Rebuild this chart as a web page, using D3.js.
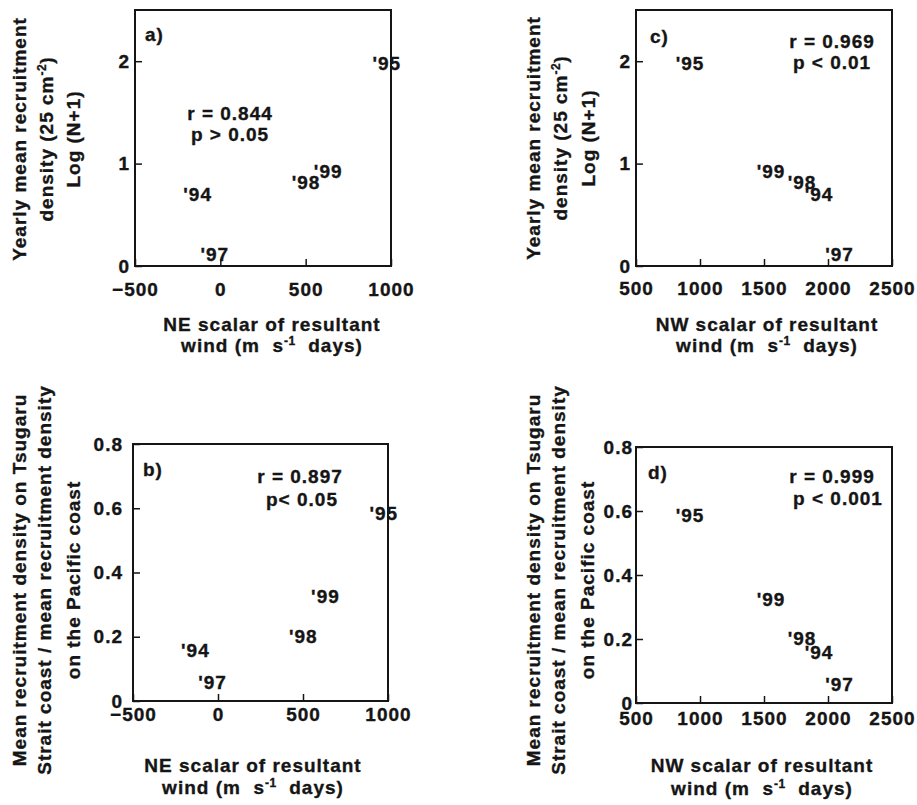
<!DOCTYPE html>
<html><head><meta charset="utf-8">
<script src="https://cdn.jsdelivr.net/npm/d3@7"></script>
<style>
body{margin:0;background:#fff}
svg text{font-family:"Liberation Sans",Arial,Helvetica,sans-serif;font-weight:bold;font-size:19px;letter-spacing:1px;fill:#151515;stroke:#151515;stroke-width:0.35px}
</style></head><body>
<svg id="chart" width="917" height="805"></svg>
<script>
// ---- data ----
const years = ["'94", "'95", "'97", "'98", "'99"];
const neWind = [-133, 975, -32, 502, 632];          // NE scalar of resultant wind
const nwWind = [1930, 922, 2090, 1797, 1555];       // NW scalar of resultant wind
const logDensity = [0.703, 1.98, 0.117, 0.82, 0.928]; // Log(N+1)
const densityRatio = [0.159, 0.586, 0.058, 0.203, 0.325];

const neTicks = [-500, 0, 500, 1000];
const neTickLabels = ["\u2212500", "0", "500", "1000"];
const nwTicks = [500, 1000, 1500, 2000, 2500];
const nwTickLabels = ["500", "1000", "1500", "2000", "2500"];
const logTicks = [0, 1, 2];
const logTickLabels = ["0", "1", "2"];
const ratioTicks = [0, 0.2, 0.4, 0.6, 0.8];
const ratioTickLabels = ["0", "0.2", "0.4", "0.6", "0.8"];

const panelLetters = ["a)", "b)", "c)", "d)"];
const statLines = [["r = 0.844", "p > 0.05"], ["r = 0.897", "p< 0.05"], ["r = 0.969", "p < 0.01"], ["r = 0.999", "p < 0.001"]];

const yTitleLog = [[{t: "Yearly mean recruitment"}], [{t: "density (25 cm"}, {t: "-2", sup: true}, {t: ")"}], [{t: "Log (N+1)"}]];
const yTitleRatio = [[{t: "Mean recruitment density on Tsugaru"}], [{t: "Strait coast / mean recruitment density"}], [{t: "on the Pacific coast"}]];
const xTitleNE = [[{t: "NE scalar of resultant"}], [{t: "wind (m\u00a0\u00a0s"}, {t: "-1", sup: true}, {t: "\u00a0\u00a0days)"}]];
const xTitleNW = [[{t: "NW scalar of resultant"}], [{t: "wind (m\u00a0\u00a0s"}, {t: "-1", sup: true}, {t: "\u00a0\u00a0days)"}]];

// ---- layout ----
const panels = [
  {id: 0, xv: neWind, yv: logDensity, xDom: [-500, 1000], yDom: [0, 2.5], xt: neTicks, xl: neTickLabels, yt: logTicks, yl: logTickLabels,
   box: [135, 10, 391, 266], ypad: 5, xpad: 17, yTitle: yTitleLog, yTitleX: [26, 53, 80], yTitleCY: 139,
   xTitle: xTitleNE, xTitleCX: 272, xTitleY: [331, 352], stat: [[230, 120], [230, 141]], letter: [145, 41]},
  {id: 1, xv: neWind, yv: densityRatio, xDom: [-500, 1000], yDom: [0, 0.8], xt: neTicks, xl: neTickLabels, yt: ratioTicks, yl: ratioTickLabels,
   box: [133, 444, 388, 701], ypad: 10, xpad: 7, yTitle: yTitleRatio, yTitleX: [26, 51, 80], yTitleCY: 580,
   xTitle: xTitleNE, xTitleCX: 253, xTitleY: [772, 794], stat: [[300, 483], [302, 506]], letter: [143, 476]},
  {id: 2, xv: nwWind, yv: logDensity, xDom: [500, 2500], yDom: [0, 2.5], xt: nwTicks, xl: nwTickLabels, yt: logTicks, yl: logTickLabels,
   box: [636, 10, 892, 266], ypad: 5, xpad: 16, yTitle: yTitleLog, yTitleX: [540, 567, 595], yTitleCY: 138,
   xTitle: xTitleNW, xTitleCX: 767, xTitleY: [331, 352], stat: [[832, 48], [832, 69]], letter: [650, 43]},
  {id: 3, xv: nwWind, yv: densityRatio, xDom: [500, 2500], yDom: [0, 0.8], xt: nwTicks, xl: nwTickLabels, yt: ratioTicks, yl: ratioTickLabels,
   box: [636, 447, 892, 703], ypad: 3, xpad: 9, yTitle: yTitleRatio, yTitleX: [540, 565, 594], yTitleCY: 580,
   xTitle: xTitleNW, xTitleCX: 762, xTitleY: [772, 795], stat: [[832, 483], [838, 505]], letter: [648, 479]}
];

const svg = d3.select("#chart");
const ink = "#151515";

function addSegments(textSel, segs) {
  segs.forEach(s => {
    if (s.sup) {
      textSel.append("tspan").attr("dy", -7).style("font-size", "12px").style("letter-spacing", "0.5px").text(s.t);
    } else {
      const ts = textSel.append("tspan").text(s.t);
      if (textSel.selectAll("tspan").size() > 1) ts.attr("dy", 7);
    }
  });
}

panels.forEach(p => {
  const g = svg.append("g");
  const [x0, y0, x1, y1] = p.box;
  const x = d3.scaleLinear().domain(p.xDom).range([x0, x1]);
  const y = d3.scaleLinear().domain(p.yDom).range([y1, y0]);

  const yAxis = d3.axisLeft(y).tickValues(p.yt).tickFormat((d, i) => p.yl[i])
    .tickSizeInner(-7).tickSizeOuter(0).tickPadding(p.ypad);
  g.append("g").attr("transform", `translate(${x0},0)`).attr("color", ink).call(yAxis)
    .call(s => s.select(".domain").remove())
    .call(s => s.selectAll("line").attr("stroke-width", 1.5));

  const xAxis = d3.axisBottom(x).tickValues(p.xt).tickFormat((d, i) => p.xl[i])
    .tickSizeInner(-7).tickSizeOuter(0).tickPadding(p.xpad);
  g.append("g").attr("transform", `translate(0,${y1})`).attr("color", ink).call(xAxis)
    .call(s => s.select(".domain").remove())
    .call(s => s.selectAll("line").attr("stroke-width", 1.5));

  g.append("rect").attr("x", x0).attr("y", y0).attr("width", x1 - x0).attr("height", y1 - y0)
    .attr("fill", "none").attr("stroke", ink).attr("stroke-width", 2);

  // year labels as point marks
  const pts = years.map((t, i) => ({t, xv: p.xv[i], yv: p.yv[i]}));
  g.selectAll(".yr").data(pts).join("text").attr("class", "yr")
    .attr("x", d => x(d.xv)).attr("y", d => y(d.yv)).attr("dy", "0.36em")
    .attr("text-anchor", "middle").text(d => d.t);

  // panel letter
  g.append("text").attr("x", p.letter[0]).attr("y", p.letter[1]).text(panelLetters[p.id]);

  // statistics
  statLines[p.id].forEach((s, i) => {
    g.append("text").attr("x", p.stat[i][0]).attr("y", p.stat[i][1]).attr("text-anchor", "middle").text(s);
  });

  // y title
  p.yTitle.forEach((segs, i) => {
    const t = g.append("text").attr("text-anchor", "middle")
      .attr("transform", `translate(${p.yTitleX[i]},${p.yTitleCY}) rotate(-90)`);
    addSegments(t, segs);
  });

  // x title
  p.xTitle.forEach((segs, i) => {
    const t = g.append("text").attr("text-anchor", "middle").attr("x", p.xTitleCX).attr("y", p.xTitleY[i]);
    addSegments(t, segs);
  });
});
</script>
</body></html>
